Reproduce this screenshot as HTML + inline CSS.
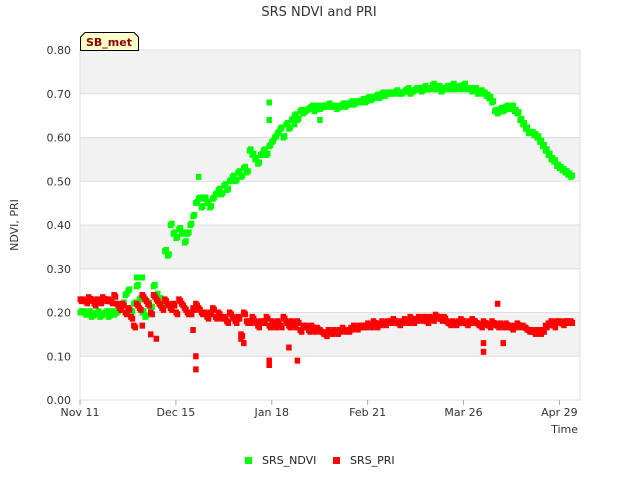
<!DOCTYPE html>
<html><head><meta charset="utf-8"><style>
body{margin:0;background:#fff;font-family:"Liberation Sans","DejaVu Sans",sans-serif}
</style></head><body>
<svg width="640" height="480" xmlns="http://www.w3.org/2000/svg" font-family="DejaVu Sans, Liberation Sans, sans-serif">
<rect width="640" height="480" fill="#fff"/>
<text x="319" y="16" text-anchor="middle" font-size="13" fill="#333">SRS NDVI and PRI</text>
<g id="bands"></g>
<rect x="80" y="50" width="500" height="350" fill="none" stroke="#ddd"/>
<g id="yticks"></g><g id="xticks"></g>
<g id="marks"></g>
<text x="18" y="225" transform="rotate(-90 18 225)" text-anchor="middle" font-size="11" fill="#333">NDVI, PRI</text>
<text x="578" y="433" text-anchor="end" font-size="11" fill="#333">Time</text>
<g>
<path d="M80.5,50.5 L80.5,37 L85,32.5 L134,32.5 L138.5,37 L138.5,50.5 Z" fill="#ffffc8" stroke="#000"/>
<text x="109" y="46" text-anchor="middle" font-size="11" font-weight="bold" fill="#8b0000">SB_met</text>
</g>
<g><rect x="245" y="457" width="7" height="7" fill="#00ff00"/><text x="262" y="464" font-size="11" fill="#222">SRS_NDVI</text></g>
<g><rect x="333" y="457" width="7" height="7" fill="#ff0000"/><text x="350" y="464" font-size="11" fill="#222">SRS_PRI</text></g>
</svg>
<script>
const yTicks=[0,0.1,0.2,0.3,0.4,0.5,0.6,0.7,0.8];
const xTickLabels=["Nov 11","Dec 15","Jan 18","Feb 21","Mar 26","Apr 29"];
const xTickDays=[0,34,68,102,136,170];
const ndvi=[.20,.20,.195,.20,.19,.195,.20,.19,.195,.20,
.19,.20,.195,.20,.21,.22,.24,.25,.20,.22,
.26,.23,.20,.19,.22,.21,.26,.24,.23,.22,
.34,.33,.40,.38,.37,.39,.38,.36,.38,.40,
.42,.45,.46,.44,.46,.45,.44,.46,.47,.48,
.47,.49,.48,.50,.51,.50,.52,.51,.53,.52,
.57,.56,.55,.54,.56,.57,.56,.58,.59,.60,
.61,.62,.60,.63,.62,.64,.65,.64,.66,.655,
.66,.665,.67,.66,.67,.665,.67,.67,.675,.67,
.67,.665,.67,.675,.67,.675,.68,.675,.68,.68,
.685,.68,.69,.685,.69,.695,.69,.70,.695,.70,
.70,.70,.705,.70,.70,.705,.71,.70,.705,.71,
.71,.705,.715,.71,.71,.72,.71,.715,.705,.71,
.715,.71,.72,.71,.715,.71,.72,.71,.71,.705,
.71,.70,.705,.70,.695,.69,.68,.66,.655,.665,
.66,.67,.665,.67,.66,.655,.64,.63,.62,.61,
.61,.605,.60,.59,.58,.57,.56,.55,.545,.535,
.53,.525,.52,.515,.51];
const pri=[.23,.23,.225,.235,.23,.22,.23,.225,.235,.23,
.23,.225,.24,.22,.21,.22,.20,.21,.19,.17,
.22,.21,.24,.23,.22,.20,.24,.23,.22,.21,
.23,.22,.21,.22,.20,.23,.22,.21,.20,.20,
.21,.22,.21,.20,.20,.19,.20,.21,.19,.20,
.19,.19,.18,.20,.19,.18,.19,.15,.20,.18,
.18,.19,.18,.17,.18,.18,.19,.17,.18,.17,
.18,.17,.19,.18,.17,.18,.17,.18,.16,.17,
.17,.16,.17,.16,.165,.16,.155,.15,.16,.155,
.16,.155,.16,.165,.16,.16,.165,.17,.165,.17,
.17,.17,.175,.17,.18,.17,.175,.18,.175,.18,
.18,.185,.18,.175,.18,.185,.18,.19,.18,.185,
.19,.185,.19,.18,.19,.185,.195,.19,.185,.19,
.18,.175,.18,.175,.18,.185,.18,.175,.18,.185,
.18,.175,.17,.18,.175,.17,.18,.175,.17,.175,
.17,.175,.17,.165,.17,.175,.17,.17,.165,.16,
.16,.155,.16,.155,.16,.17,.175,.18,.17,.18,
.18,.175,.18,.18,.18];
const ndviExtraDays=[67,67,76,85,42,22,20];
const ndviExtraVals=[.68,.64,.63,.64,.51,.28,.28];
const priExtraDays=[27,25,22,41,41,40,58,67,67,74,77,143,143,150,148,57];
const priExtraVals=[.14,.15,.17,.07,.10,.16,.13,.09,.08,.12,.09,.11,.13,.13,.22,.14];
const NS="http://www.w3.org/2000/svg";
const X=d=>80+d*2.82, Y=v=>400-v*437.5;
function mk(tag,attrs,parent){const e=document.createElementNS(NS,tag);for(const k in attrs)e.setAttribute(k,attrs[k]);parent.appendChild(e);return e;}
const bands=document.getElementById('bands');
[[0.1,0.2],[0.3,0.4],[0.5,0.6],[0.7,0.8]].forEach(b=>{const r=mk('rect',{x:80,y:Y(b[1]),width:500,height:Y(b[0])-Y(b[1]),fill:'#f2f2f2'},bands);

});
const yt=document.getElementById('yticks');
yTicks.forEach(v=>{const l=mk('line',{x1:80,x2:580,y1:Y(v),y2:Y(v),stroke:'#ddd'},yt);


const t=mk('text',{x:71,y:Y(v)+4,'text-anchor':'end','font-size':11,fill:'#333'},yt);t.textContent=v.toFixed(2);

});
const xt=document.getElementById('xticks');
xTickDays.forEach((d,i)=>{const l=mk('line',{x1:X(d),x2:X(d),y1:400,y2:405,stroke:'#aaa'},xt);


const t=mk('text',{x:X(d),y:416,'text-anchor':'middle','font-size':11,fill:'#333'},xt);t.textContent=xTickLabels[i];

});
const g=document.getElementById('marks');
function pt(d,v,c,name){const r=mk('rect',{x:X(d)-2.5,y:Y(v)-3,width:5.5,height:6,fill:c},g);

}
ndvi.forEach((v,d)=>{pt(d,v,'#00ff00','ndvi-point');pt(d+0.5,v+0.003,'#00ff00','ndvi-point');});
ndviExtraDays.forEach((d,i)=>pt(d,ndviExtraVals[i],'#00ff00','ndvi-point'));
pri.forEach((v,d)=>{pt(d,v,'#ff0000','pri-point');pt(d+0.5,v-0.004,'#ff0000','pri-point');});
priExtraDays.forEach((d,i)=>pt(d,priExtraVals[i],'#ff0000','pri-point'));
</script>
</body></html>
